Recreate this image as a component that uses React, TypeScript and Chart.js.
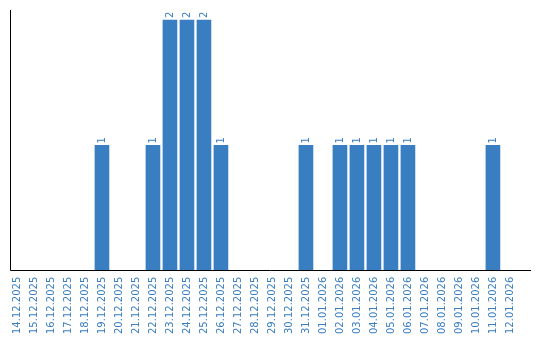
import React, { useEffect, useRef } from "react";
import { Chart, registerables } from "chart.js";

Chart.register(...registerables);

const dates = [
  "14.12.2025", "15.12.2025", "16.12.2025", "17.12.2025", "18.12.2025",
  "19.12.2025", "20.12.2025", "21.12.2025", "22.12.2025", "23.12.2025",
  "24.12.2025", "25.12.2025", "26.12.2025", "27.12.2025", "28.12.2025",
  "29.12.2025", "30.12.2025", "31.12.2025", "01.01.2026", "02.01.2026",
  "03.01.2026", "04.01.2026", "05.01.2026", "06.01.2026", "07.01.2026",
  "08.01.2026", "09.01.2026", "10.01.2026", "11.01.2026", "12.01.2026",
];
const counts = [
  0, 0, 0, 0, 0, 1, 0, 0, 1, 2, 2, 2, 1, 0, 0, 0, 0, 1, 0, 1, 1, 1, 1, 1, 0, 0, 0, 0, 1, 0,
];

const BLUE = "#3a7ec2";
const FONT = "DejaVu Sans, Verdana, sans-serif";

const axisLines = {
  id: "axisLines",
  afterDraw(chart: any) {
    const { ctx, chartArea } = chart;
    ctx.save();
    ctx.strokeStyle = "#000";
    ctx.lineWidth = 1;
    ctx.beginPath();
    const l = Math.round(chartArea.left) + 0.5;
    const b = Math.floor(chartArea.bottom) + 0.5;
    ctx.moveTo(l, chartArea.top);
    ctx.lineTo(l, b);
    ctx.lineTo(chartArea.right, b);
    ctx.stroke();
    ctx.restore();
  },
};

const valueLabels = {
  id: "valueLabels",
  afterDatasetsDraw(chart: any) {
    const { ctx } = chart;
    const meta = chart.getDatasetMeta(0);
    ctx.save();
    ctx.fillStyle = BLUE;
    ctx.font = `10px ${FONT}`;
    ctx.textAlign = "left";
    ctx.textBaseline = "middle";
    meta.data.forEach((bar: any, i: number) => {
      const v = counts[i];
      if (!v) return;
      ctx.save();
      ctx.translate(bar.x, bar.y - 2);
      ctx.rotate(-Math.PI / 2);
      ctx.fillText(String(v), 0, 0);
      ctx.restore();
    });
    ctx.restore();
  },
};

export default function App() {
  const ref = useRef<HTMLCanvasElement | null>(null);
  useEffect(() => {
    if (!ref.current) return;
    const chart = new Chart(ref.current, {
      type: "bar",
      data: {
        datasets: [
          {
            data: counts.map((v, i) => ({ x: i, y: v > 0 ? v : null })),
            backgroundColor: BLUE,
            borderWidth: 0,
            barThickness: 14,
          },
        ],
      },
      options: {
        animation: false,
        responsive: false,
        maintainAspectRatio: false,
        layout: { padding: { left: 10, top: 10, right: 9, bottom: 0 } },
        plugins: { legend: { display: false }, tooltip: { enabled: false } },
        scales: {
          x: {
            type: "linear",
            offset: false,
            min: -0.41,
            max: 30.24,
            grid: { display: false, drawTicks: false },
            border: { display: false },
            afterBuildTicks: (scale: any) => {
              scale.ticks = dates.map((_, i) => ({ value: i }));
            },
            afterFit: (scale: any) => {
              scale.paddingLeft = 0;
              scale.paddingRight = 0;
            },
            ticks: {
              autoSkip: false,
              maxRotation: 90,
              minRotation: 90,
              color: BLUE,
              font: { size: 10, family: FONT },
              padding: 6,
              callback: (v: any) => dates[v] ?? "",
            },
          },
          y: {
            display: false,
            min: 0,
            max: 2.08,
          },
        },
      },
      plugins: [axisLines, valueLabels],
    });
    return () => chart.destroy();
  }, []);
  return (
    <div style={{ position: "fixed", left: 0, top: 0, width: 540, height: 340, background: "#fff" }}>
      <canvas ref={ref} width={540} height={340} style={{ display: "block" }} />
    </div>
  );
}
